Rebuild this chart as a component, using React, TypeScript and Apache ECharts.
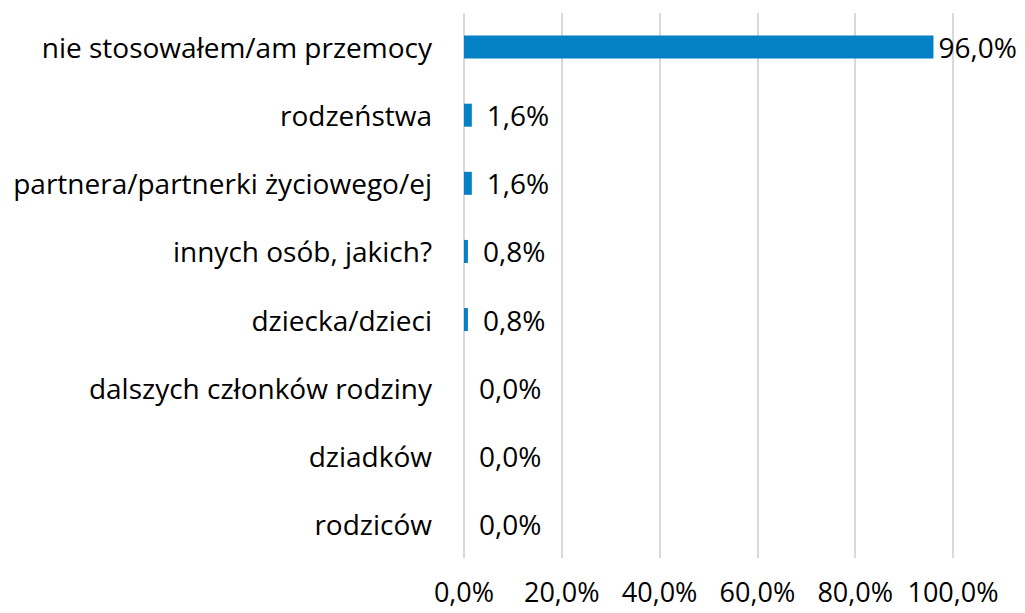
import React, { useEffect, useRef } from "react";
import * as echarts from "echarts";

const categories = [
  "rodziców",
  "dziadków",
  "dalszych członków rodziny",
  "dziecka/dzieci",
  "innych osób, jakich?",
  "partnera/partnerki życiowego/ej",
  "rodzeństwa",
  "nie stosowałem/am przemocy",
];
const values = [0.0, 0.0, 0.0, 0.8, 0.8, 1.6, 1.6, 96.0];
const axisTicks = [0, 20, 40, 60, 80, 100];

const FONT = "Open Sans";
const FS = 28;
const fmt = (v: number) => v.toFixed(1).replace(".", ",") + "%";

export default function App() {
  const ref = useRef<HTMLDivElement>(null);
  useEffect(() => {
    if (!ref.current) return;
    const chart = echarts.init(ref.current, undefined, { renderer: "svg" });
    chart.setOption({
      animation: false,
      grid: { left: 464, right: 72, top: 13, bottom: 55, containLabel: false },
      xAxis: {
        type: "value",
        min: axisTicks[0],
        max: axisTicks[axisTicks.length - 1],
        interval: 20,
        axisLine: { show: false },
        axisTick: { show: false },
        splitLine: { show: true, lineStyle: { color: "#d9d9d9", width: 2 } },
        axisLabel: {
          formatter: (v: number) => fmt(v),
          fontFamily: FONT,
          fontSize: 27,
          color: "#000",
          margin: 20,
        },
      },
      yAxis: {
        type: "category",
        data: categories,
        axisLine: { show: false },
        axisTick: { show: false },
        axisLabel: {
          fontFamily: FONT,
          fontSize: FS,
          color: "#000",
          margin: 32,
        },
      },
      series: [
        {
          type: "bar",
          data: values.map((v, i) =>
            i === values.length - 1
              ? { value: v, label: { distance: 5 } }
              : v
          ),
          barWidth: 23,
          itemStyle: { color: "#0480c6", borderWidth: 0 },
          label: {
            show: true,
            position: "right",
            distance: 15,
            formatter: (p: any) => fmt(p.value),
            fontFamily: FONT,
            fontSize: FS,
            color: "#000",
          },
        },
      ],
    });
    return () => chart.dispose();
  }, []);
  return <div ref={ref} style={{ width: 1025, height: 613, position: "absolute", left: 0, top: 0 }} />;
}
